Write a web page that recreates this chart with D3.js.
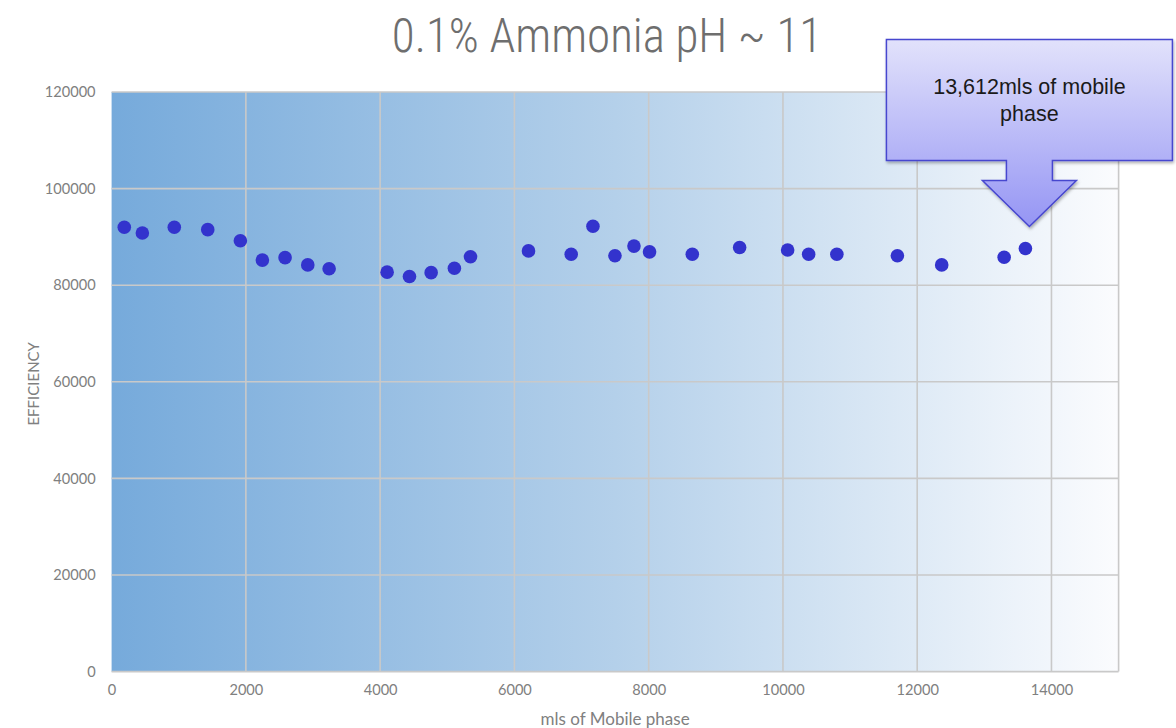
<!DOCTYPE html>
<html>
<head>
<meta charset="utf-8">
<script src="https://cdn.jsdelivr.net/npm/d3@7"></script>
<style>
  html, body { margin: 0; padding: 0; background: #ffffff; }
  svg { display: block; }
</style>
</head>
<body>
<svg id="chart" width="1176" height="728"></svg>
<script>
// Mobile phase volume (mL) passed through the column
const volumes = [189, 458, 934, 1432, 1918, 2246, 2584, 2922, 3240, 4104, 4437, 4760, 5106, 5346,
  6210, 6846, 7170, 7498, 7781, 8013, 8650, 9355, 10070, 10383, 10803, 11705, 12365, 13295, 13612];
// Column efficiency (plates) measured at each volume
const efficiency = [92000, 90800, 92000, 91500, 89200, 85200, 85700, 84200, 83400, 82700, 81800, 82600, 83500, 85900,
  87100, 86400, 92200, 86100, 88100, 86900, 86400, 87800, 87300, 86400, 86400, 86100, 84200, 85800, 87600];
const xTicks = [0, 2000, 4000, 6000, 8000, 10000, 12000, 14000];
const yTicks = [0, 20000, 40000, 60000, 80000, 100000, 120000];
const titleText = "0.1% Ammonia pH ~ 11";
const xTitle = "mls of Mobile phase";
const yTitle = "EFFICIENCY";
const calloutLines = ["13,612mls of mobile", "phase"];
const calloutIndex = volumes.length - 1;

const points = volumes.map((v, i) => ({ x: v, y: efficiency[i] }));

const svg = d3.select("#chart");
const margin = { left: 111.6, top: 92, right: 1118.6, bottom: 671.6 };

const x = d3.scaleLinear().domain([0, 15000]).range([margin.left, margin.right]);
const y = d3.scaleLinear().domain([0, 120000]).range([margin.bottom, margin.top]);

const defs = svg.append("defs");
const bg = defs.append("linearGradient").attr("id", "plotBg")
  .attr("x1", "0%").attr("x2", "100%").attr("y1", "0%").attr("y2", "0%");
bg.append("stop").attr("offset", "0%").attr("stop-color", "#76aadb");
bg.append("stop").attr("offset", "50%").attr("stop-color", "#b4d0ea");
bg.append("stop").attr("offset", "100%").attr("stop-color", "#fbfcfe");

const arrowGrad = defs.append("linearGradient").attr("id", "calloutFill")
  .attr("x1", "0%").attr("x2", "0%").attr("y1", "0%").attr("y2", "100%");
arrowGrad.append("stop").attr("offset", "0%").attr("stop-color", "#e2e2fb");
arrowGrad.append("stop").attr("offset", "100%").attr("stop-color", "#9595f4");

const shadow = defs.append("filter").attr("id", "shadow")
  .attr("x", "-10%").attr("y", "-10%").attr("width", "130%").attr("height", "130%");
shadow.append("feDropShadow").attr("dx", 1).attr("dy", 2).attr("stdDeviation", 1.5)
  .attr("flood-color", "#000").attr("flood-opacity", 0.3);

// Plot area background
svg.append("rect")
  .attr("x", x(0)).attr("y", y(120000))
  .attr("width", x(15000) - x(0)).attr("height", y(0) - y(120000))
  .attr("fill", "url(#plotBg)");

// Gridlines
const grid = svg.append("g");
grid.selectAll("line.v").data(xTicks.concat([15000]).filter(d => d > 0)).join("line")
  .attr("x1", d => x(d)).attr("x2", d => x(d))
  .attr("y1", y(120000)).attr("y2", y(0))
  .attr("stroke", "#c9c9c9").attr("stroke-width", 1.6);
grid.selectAll("line.h").data(yTicks).join("line")
  .attr("x1", x(0)).attr("x2", x(15000))
  .attr("y1", d => y(d)).attr("y2", d => y(d))
  .attr("stroke", "#c9c9c9").attr("stroke-width", 1.6);

// Axes
const labelFont = "Lato, 'Open Sans', 'Liberation Sans', sans-serif";
const yAxis = svg.append("g").attr("transform", `translate(${x(0)},0)`)
  .call(d3.axisLeft(y).tickValues(yTicks).tickFormat(d3.format("d")).tickSize(0).tickPadding(16));
const xAxis = svg.append("g").attr("transform", `translate(0,${y(0)})`)
  .call(d3.axisBottom(x).tickValues(xTicks).tickFormat(d3.format("d")).tickSize(0).tickPadding(13));
[xAxis, yAxis].forEach(a => {
  a.select(".domain").remove();
  a.selectAll("text").attr("fill", "#808080").attr("font-size", 14.6).attr("font-family", labelFont);
});

// Axis titles
svg.append("text")
  .attr("x", (x(0) + x(15000)) / 2 + 0).attr("y", 725)
  .attr("text-anchor", "middle").attr("fill", "#808080")
  .attr("font-size", 17).attr("font-family", labelFont)
  .text(xTitle);
svg.append("text")
  .attr("transform", `translate(39,${(y(0) + y(120000)) / 2 + 2}) rotate(-90)`)
  .attr("text-anchor", "middle").attr("fill", "#808080")
  .attr("font-size", 15).attr("font-family", labelFont)
  .text(yTitle);

// Chart title
svg.append("text")
  .attr("transform", "translate(607,52) scale(0.97,1)")
  .attr("text-anchor", "middle").attr("fill", "#6e6e6e")
  .attr("font-size", 48.5)
  .attr("font-family", "'Liberation Sans Narrow', 'Arial Narrow', 'Roboto Condensed', Roboto, 'Liberation Sans', sans-serif")
  .attr("font-weight", 300)
  .text(titleText);

// Data points
svg.append("g").selectAll("circle").data(points).join("circle")
  .attr("cx", d => x(d.x)).attr("cy", d => y(d.y)).attr("r", 6.8)
  .attr("fill", "#3333cd");

// Down-arrow callout pointing at the last measurement
const target = points[calloutIndex];
const tx = x(target.x) + 4, ty = y(target.y) - 22;
const boxL = tx - 143, boxR = tx + 143, boxT = ty - 187, boxB = ty - 66;
const stemL = tx - 23, stemR = tx + 23, headY = ty - 46, headL = tx - 47, headR = tx + 47;
const path = d3.path();
path.moveTo(boxL, boxT);
path.lineTo(boxR, boxT);
path.lineTo(boxR, boxB);
path.lineTo(stemR, boxB);
path.lineTo(stemR, headY);
path.lineTo(headR, headY);
path.lineTo(tx, ty);
path.lineTo(headL, headY);
path.lineTo(stemL, headY);
path.lineTo(stemL, boxB);
path.lineTo(boxL, boxB);
path.closePath();
svg.append("path").attr("d", path.toString())
  .attr("fill", "url(#calloutFill)").attr("stroke", "#4646cf").attr("stroke-width", 1.5)
  .attr("filter", "url(#shadow)");
const ct = svg.append("text")
  .attr("text-anchor", "middle").attr("fill", "#1a1a1a")
  .attr("font-size", 21.5).attr("font-family", "'Liberation Sans', Arial, sans-serif");
calloutLines.forEach((line, i) => {
  ct.append("tspan").attr("x", tx).attr("y", boxT + 55 + i * 27).text(line);
});
</script>
</body>
</html>
